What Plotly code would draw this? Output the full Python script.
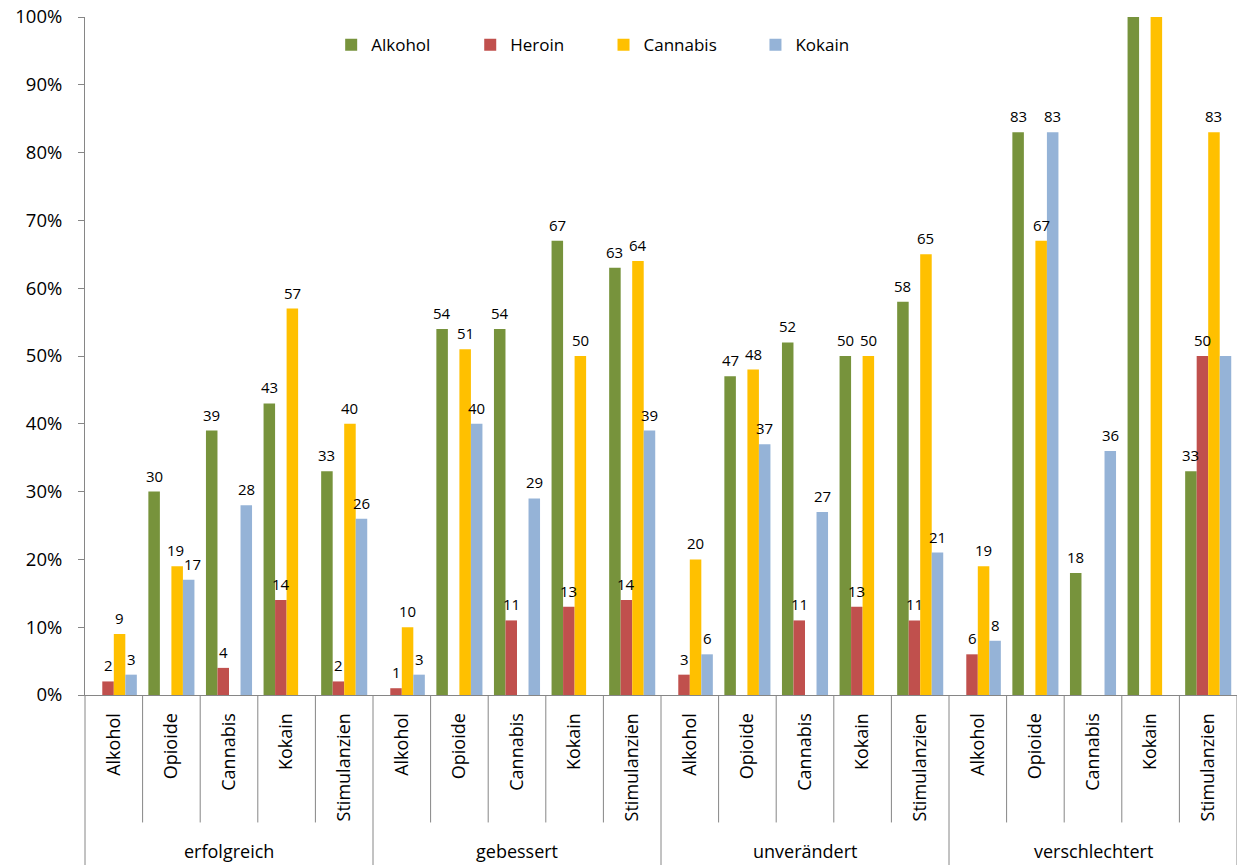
import plotly.graph_objects as go

# Category structure: outcome groups, each split by primary substance
outcomes = ["erfolgreich", "gebessert", "unverändert", "verschlechtert"]
substances = ["Alkohol", "Opioide", "Cannabis", "Kokain", "Stimulanzien"]

# Percentages per series, in order outcome x substance (None = no bar)
alkohol = [None, 30, 39, 43, 33, None, 54, 54, 67, 63, None, 47, 52, 50, 58, None, 83, 18, 100, 33]
heroin = [2, None, 4, 14, 2, 1, None, 11, 13, 14, 3, None, 11, 13, 11, 6, None, None, None, 50]
cannabis = [9, 19, None, 57, 40, 10, 51, None, 50, 64, 20, 48, None, 50, 65, 19, 67, None, 100, 83]
kokain = [3, 17, 28, None, 26, 3, 40, 29, None, 39, 6, 37, 27, None, 21, 8, 83, 36, None, 50]

series_names = ["Alkohol", "Heroin", "Cannabis", "Kokain"]
series_values = [alkohol, heroin, cannabis, kokain]
series_colors = ["#77933C", "#C0504D", "#FFC000", "#95B3D7"]

# bars whose value label is not printed
unlabeled = {("Kokain", 19)}
# small sideways nudges (px) for labels that would collide with a neighbour
label_nudge = {("Cannabis", 1): -2, ("Kokain", 1): 4}

# left edge of each legend entry, as a fraction of the plot width
legend_x = [0.2137, 0.3344, 0.4501, 0.5820]

FONT = "Open Sans"
AXIS_GREY = "#868686"

n_cat = len(outcomes) * len(substances)
cat_index = list(range(n_cat))
inner_labels = [substances[i % len(substances)] for i in cat_index]

bar_w = 0.2
n_series = len(series_names)

fig = go.Figure()
annotations = []
legend_layout = {}
for k, (name, vals, col) in enumerate(zip(series_names, series_values, series_colors)):
    offset = (k - (n_series - 1) / 2) * bar_w
    xs = [i + offset for i in cat_index]
    legend_id = "legend" if k == 0 else f"legend{k + 1}"
    fig.add_trace(go.Bar(
        x=xs, y=vals, width=bar_w, name=name, legend=legend_id,
        marker=dict(color=col, line=dict(width=0)),
    ))
    legend_layout[legend_id] = dict(
        orientation="h", xref="paper", yref="paper",
        x=legend_x[k], y=0.985, xanchor="left", yanchor="top",
        font=dict(family=FONT, size=17, color="#000000"),
        bgcolor="rgba(0,0,0,0)",
    )
    for x, v, i in zip(xs, vals, cat_index):
        if v is None or v >= 100 or (name, i) in unlabeled:
            continue
        annotations.append(dict(
            x=x, y=v, xref="x", yref="y", text=str(v), showarrow=False,
            yanchor="bottom", yshift=4, xshift=label_nudge.get((name, i), 0),
            font=dict(family=FONT, size=15, color="#000000"),
        ))

# outer group labels below the rotated substance labels
group_size = len(substances)
for g, label in enumerate(outcomes):
    annotations.append(dict(
        x=g * group_size + (group_size - 1) / 2, y=-0.23, xref="x", yref="paper",
        text=label, showarrow=False, yanchor="middle",
        font=dict(family=FONT, size=18, color="#000000"),
    ))

# separators between categories (longer ones between outcome groups)
shapes = []
for i in range(n_cat + 1):
    long_line = i % group_size == 0
    shapes.append(dict(
        type="line", xref="paper", yref="paper",
        x0=i / n_cat, x1=i / n_cat, y0=0, y1=-0.251 if long_line else -0.188,
        line=dict(color=AXIS_GREY, width=1),
    ))

fig.update_layout(
    width=1237, height=865,
    margin=dict(l=85, r=0, t=17, b=170, autoexpand=False),
    paper_bgcolor="white", plot_bgcolor="white",
    barmode="overlay",
    font=dict(family=FONT, color="#000000"),
    showlegend=True,
    annotations=annotations,
    shapes=shapes,
    **legend_layout,
)

fig.update_xaxes(
    range=[-0.5, n_cat - 0.5],
    tickmode="array", tickvals=cat_index, ticktext=inner_labels,
    tickangle=-90, ticks="", ticklabelstandoff=10,
    tickfont=dict(family=FONT, size=18, color="#000000"),
    showline=True, linecolor=AXIS_GREY, linewidth=1,
    showgrid=False, zeroline=False, automargin=False,
)

fig.update_yaxes(
    range=[0, 100], dtick=10, ticksuffix="%",
    ticks="outside", ticklen=6, tickcolor=AXIS_GREY,
    tickfont=dict(family=FONT, size=18.5, color="#000000"),
    ticklabelstandoff=12,
    showline=True, linecolor=AXIS_GREY, linewidth=1,
    showgrid=False, zeroline=False, automargin=False,
)

fig.write_html("out.html")
